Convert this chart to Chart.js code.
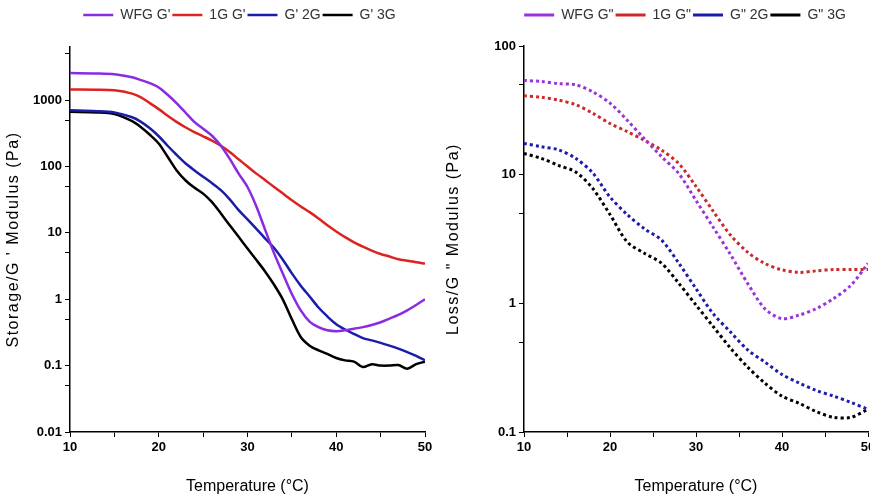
<!DOCTYPE html>
<html>
<head>
<meta charset="utf-8">
<script src="https://cdn.jsdelivr.net/npm/chart.js@4.4.0/dist/chart.umd.min.js"></script>
<style>
body { margin: 0; width: 870px; height: 500px; overflow: hidden; background: #fff; }
#left { position: absolute; left: 0; top: 0; width: 440px; height: 500px; }
#right { position: absolute; left: 440px; top: 0; width: 450px; height: 500px; }
</style>
</head>
<body>
<div id="left"><canvas id="storageChart"></canvas></div>
<div id="right"><canvas id="lossChart"></canvas></div>
<script>
// Storage modulus G' (left panel)
const storageTemps = [10, 13, 15, 17, 18, 19, 20, 21, 22, 23, 24, 25, 26, 27, 28, 29, 30, 31, 32, 33, 34, 35, 36, 37, 38, 39, 40, 41, 42, 43, 44, 45, 46, 47, 48, 49, 50];
const wfgStorage = [2550, 2520, 2450, 2200, 2000, 1800, 1550, 1200, 900, 650, 470, 370, 290, 205, 130, 78, 49, 25, 11, 4.9, 2.4, 1.2, 0.68, 0.46, 0.38, 0.34, 0.33, 0.34, 0.36, 0.38, 0.41, 0.45, 0.51, 0.58, 0.68, 0.82, 1.0];
const g1Storage = [1440, 1430, 1400, 1250, 1100, 900, 730, 580, 470, 390, 330, 285, 245, 205, 165, 128, 100, 78, 62, 49, 39, 31, 25, 20.5, 16.5, 13, 10.5, 8.6, 7.2, 6.2, 5.4, 4.8, 4.4, 4.0, 3.8, 3.6, 3.45];
const g2Storage = [700, 680, 650, 550, 470, 375, 285, 205, 150, 112, 88, 70, 56, 44, 32, 22, 16, 11.5, 8.2, 5.9, 3.9, 2.45, 1.6, 1.1, 0.75, 0.55, 0.42, 0.35, 0.3, 0.26, 0.24, 0.22, 0.2, 0.18, 0.16, 0.14, 0.12];
const g3Storage = [665, 650, 615, 480, 390, 300, 222, 140, 88, 62, 48, 39, 29, 19.6, 13, 8.7, 5.8, 3.9, 2.6, 1.65, 0.98, 0.5, 0.27, 0.2, 0.17, 0.15, 0.13, 0.12, 0.115, 0.095, 0.105, 0.1, 0.1, 0.102, 0.09, 0.105, 0.115];

// Loss modulus G" (right panel)
const lossTemps = [10, 12, 14, 16, 18, 20, 22, 24, 26, 28, 30, 32, 34, 36, 38, 40, 42, 44, 46, 48, 50];
const wfgLoss = [54, 53, 51, 50, 44, 36, 26.5, 19, 13.8, 10.2, 6.3, 3.9, 2.4, 1.43, 0.91, 0.76, 0.81, 0.91, 1.09, 1.38, 2.04];
const g1Loss = [41, 40, 38, 35, 30, 25, 21.6, 18.5, 15.5, 12.2, 8.1, 5.2, 3.4, 2.5, 2.04, 1.82, 1.74, 1.79, 1.83, 1.83, 1.83];
const g2Loss = [17.5, 16.5, 15.6, 13.4, 10.3, 6.7, 4.9, 3.8, 3.1, 2.05, 1.3, 0.83, 0.6, 0.435, 0.35, 0.28, 0.24, 0.21, 0.19, 0.17, 0.15];
const g3Loss = [14.6, 13.4, 11.8, 10.5, 7.8, 4.9, 3.0, 2.45, 2.05, 1.43, 0.97, 0.66, 0.45, 0.32, 0.24, 0.19, 0.167, 0.144, 0.13, 0.13, 0.15];

const storageTicks = [0.01, 0.05, 0.1, 0.5, 1, 5, 10, 50, 100, 500, 1000, 5000];
const lossTicks = [0.1, 0.5, 1, 5, 10, 50, 100];

Chart.defaults.font.family = "'Liberation Sans Narrow', 'Liberation Sans', Arial, sans-serif";
Chart.defaults.color = '#000';

const toPoints = (xs, ys) => xs.map((x, i) => ({ x: x, y: ys[i] }));
const isDecade = v => Math.abs(Math.log10(v) - Math.round(Math.log10(v))) < 1e-9;

// legend: extra room below it and a sideways nudge; y title letter spacing
const tweaks = {
    id: 'tweaks',
    beforeLayout(chart, args, opts) {
        const lg = chart.legend;
        if (lg && !lg._patched) {
            const fit = lg.fit;
            lg.fit = function () { fit.call(this); this.height += opts.extra; };
            lg._patched = true;
        }
    },
    afterLayout(chart, args, opts) {
        chart.legend.left += opts.dx;
        chart.legend.right += opts.dx;
    },
    beforeDraw(chart) {
        const s = chart.scales.y;
        if (!s._spaced) {
            const draw = s.drawTitle;
            s.drawTitle = function () {
                this.ctx.save();
                this.ctx.letterSpacing = '1.5px';
                draw.call(this);
                this.ctx.restore();
            };
            s._spaced = true;
        }
    }
};

function lineSet(label, xs, ys, color, dash) {
    return {
        label: label,
        data: toPoints(xs, ys),
        borderColor: color,
        backgroundColor: color,
        borderWidth: dash ? 3 : 2.5,
        borderDash: dash ? [3, 3] : [],
        pointRadius: 0,
        tension: 0.3
    };
}

function panelOptions(yTitle, yMin, yMax, yTicks, yWidth, padRight, extra, dx) {
    return {
        responsive: true,
        maintainAspectRatio: false,
        animation: false,
        layout: { padding: { top: 6, right: padRight, bottom: 0, left: 0 } },
        plugins: {
            tooltip: { enabled: false },
            tweaks: { extra: extra, dx: dx },
            legend: {
                position: 'top',
                labels: {
                    usePointStyle: true,
                    pointStyle: 'line',
                    pointStyleWidth: 30,
                    padding: 2,
                    color: '#333',
                    font: { size: 14 }
                }
            }
        },
        scales: {
            x: {
                type: 'linear',
                min: 10,
                max: 50,
                ticks: {
                    stepSize: 5,
                    autoSkip: false,
                    maxRotation: 0,
                    font: { size: 13, weight: 'bold' },
                    callback: v => (v % 10 === 0 ? v : '')
                },
                grid: { drawOnChartArea: false, tickLength: 5, color: '#000' },
                border: { color: '#000', width: 1.5 },
                title: { display: true, text: 'Temperature (°C)', font: { size: 16 }, padding: { top: 14 } },
                afterFit: s => { s.height = 68; }
            },
            y: {
                type: 'logarithmic',
                min: yMin,
                max: yMax,
                afterBuildTicks: s => { s.ticks = yTicks.map(v => ({ value: v })); },
                ticks: {
                    autoSkip: false,
                    font: { size: 13, weight: 'bold' },
                    callback: v => (isDecade(v) ? String(v) : '')
                },
                grid: { drawOnChartArea: false, tickLength: 5, color: '#000' },
                border: { color: '#000', width: 1.5 },
                title: { display: true, text: yTitle, font: { size: 16 } },
                afterFit: s => { s.width = yWidth; }
            }
        }
    };
}

// Storage chart
new Chart(document.getElementById('storageChart'), {
    type: 'line',
    data: {
        datasets: [
            lineSet("WFG G'", storageTemps, wfgStorage, '#8a2be2', false),
            lineSet("1G G'", storageTemps, g1Storage, '#dd2222', false),
            lineSet("G' 2G", storageTemps, g2Storage, '#1c1caa', false),
            lineSet("G' 3G", storageTemps, g3Storage, '#000000', false)
        ]
    },
    options: panelOptions("Storage/G ' Modulus (Pa)", 0.01, 6300, storageTicks, 70, 15, 15, 27),
    plugins: [tweaks]
});

// Loss chart
new Chart(document.getElementById('lossChart'), {
    type: 'line',
    data: {
        datasets: [
            lineSet('WFG G"', lossTemps, wfgLoss, '#9933dd', true),
            lineSet('1G G"', lossTemps, g1Loss, '#cc2a2a', true),
            lineSet('G" 2G', lossTemps, g2Loss, '#1c1caa', true),
            lineSet('G" 3G', lossTemps, g3Loss, '#000000', true)
        ]
    },
    options: panelOptions('Loss/G " Modulus (Pa)', 0.1, 100, lossTicks, 84, 22, 14, 31),
    plugins: [tweaks]
});
</script>
</body>
</html>
